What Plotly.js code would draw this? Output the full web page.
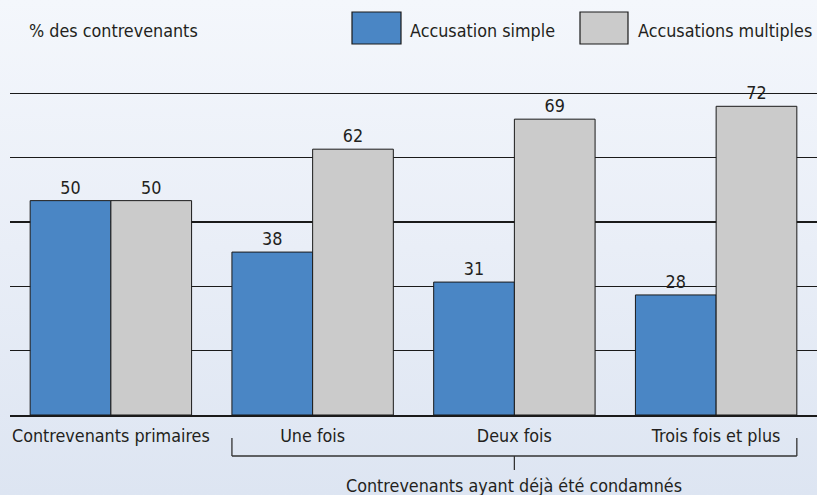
<!DOCTYPE html>
<html>
<head>
<meta charset="utf-8">
<script src="https://cdn.plot.ly/plotly-3.0.1.min.js"></script>
<style>
html, body { margin: 0; padding: 0; }
body { width: 817px; height: 495px; background: linear-gradient(to bottom, #f4f7fc 0%, #e9eef7 50%, #dde5f2 100%); }
#chart { width: 817px; height: 495px; }
</style>
</head>
<body>
<div id="chart"></div>
<script>
const categories = ["Contrevenants primaires", "Une fois", "Deux fois", "Trois fois et plus"];
const simpleValues = [50, 38, 31, 28];
const multipleValues = [50, 62, 69, 72];
const seriesNames = ["Accusation simple", "Accusations multiples"];
const yTitle = "% des contrevenants";
const groupLabel = "Contrevenants ayant déjà été condamnés";

const FONT = '"DejaVu Sans Condensed", "Liberation Sans Narrow", sans-serif';
const FS = 17.8;
const TXT = '#231f20';
const BLUE = '#4a86c5';
const GREY = '#cbcbcb';
const EDGE = '#1a1a1a';

const W = 817, L = 10, R = 0, T = 72, B = 80;
const plotW = W - L - R, plotH = 495 - T - B;
const px = x => (x - L) / plotW;
const py = y => (495 - B - y) / plotH;

const traces = [
  {
    type: 'bar', name: seriesNames[0], x: categories, y: simpleValues,
    marker: { color: BLUE, line: { color: EDGE, width: 1 } },
    texttemplate: '%{y}', textposition: 'outside', cliponaxis: false,
    constraintext: 'none',
    textfont: { family: FONT, size: FS, color: TXT }, hoverinfo: 'none'
  },
  {
    type: 'bar', name: seriesNames[1], x: categories, y: multipleValues,
    marker: { color: GREY, line: { color: EDGE, width: 1 } },
    texttemplate: '%{y}', textposition: 'outside', cliponaxis: false,
    constraintext: 'none',
    textfont: { family: FONT, size: FS, color: TXT }, hoverinfo: 'none'
  }
];

const line = { color: '#333333', width: 1.3 };
const shapes = [
  // legend boxes
  { type: 'rect', xref: 'paper', yref: 'paper', x0: px(352), x1: px(401), y0: py(44), y1: py(12),
    fillcolor: BLUE, line: { color: EDGE, width: 1.2 } },
  { type: 'rect', xref: 'paper', yref: 'paper', x0: px(580), x1: px(628), y0: py(44), y1: py(12),
    fillcolor: GREY, line: { color: EDGE, width: 1.2 } },
  // bracket
  { type: 'line', xref: 'x', yref: 'paper', x0: 0.6, x1: 0.6, y0: py(438), y1: py(456), line: line },
  { type: 'line', xref: 'x', yref: 'paper', x0: 3.4, x1: 3.4, y0: py(438), y1: py(456), line: line },
  { type: 'line', xref: 'x', yref: 'paper', x0: 0.6, x1: 3.4, y0: py(456), y1: py(456), line: line },
  { type: 'line', xref: 'x', yref: 'paper', x0: 2, x1: 2, y0: py(456), y1: py(470), line: line }
];

const annotations = [
  { xref: 'paper', yref: 'paper', x: px(27), y: py(30), xanchor: 'left', yanchor: 'middle',
    text: yTitle, showarrow: false, font: { family: FONT, size: FS, color: TXT } },
  { xref: 'paper', yref: 'paper', x: px(408), y: py(30), xanchor: 'left', yanchor: 'middle',
    text: seriesNames[0], showarrow: false, font: { family: FONT, size: FS, color: TXT } },
  { xref: 'paper', yref: 'paper', x: px(636), y: py(30), xanchor: 'left', yanchor: 'middle',
    text: seriesNames[1], showarrow: false, font: { family: FONT, size: FS, color: TXT } },
  { xref: 'x', yref: 'paper', x: 2, y: py(485), xanchor: 'center', yanchor: 'middle',
    text: groupLabel, showarrow: false, font: { family: FONT, size: FS, color: TXT } }
];

const layout = {
  width: 817, height: 495,
  margin: { l: L, r: R, t: T, b: B, pad: 0 },
  paper_bgcolor: 'rgba(0,0,0,0)', plot_bgcolor: 'rgba(0,0,0,0)',
  showlegend: false,
  barmode: 'group', bargap: 0.2, bargroupgap: 0,
  font: { family: FONT, size: FS, color: TXT },
  xaxis: {
    type: 'category', range: [-0.5, 3.5], showgrid: false, zeroline: false,
    ticks: 'outside', ticklen: 4, tickcolor: 'rgba(0,0,0,0)',
    showline: true, linecolor: EDGE, linewidth: 1.5,
    tickfont: { family: FONT, size: FS, color: TXT }, fixedrange: true
  },
  yaxis: {
    range: [0, 80], tick0: 0, dtick: 15, showgrid: true, gridcolor: EDGE, gridwidth: 1.2,
    zeroline: false, showticklabels: false, ticks: '', fixedrange: true
  },
  shapes: shapes,
  annotations: annotations
};

Plotly.newPlot('chart', traces, layout, { staticPlot: true, displayModeBar: false });
</script>
</body>
</html>
